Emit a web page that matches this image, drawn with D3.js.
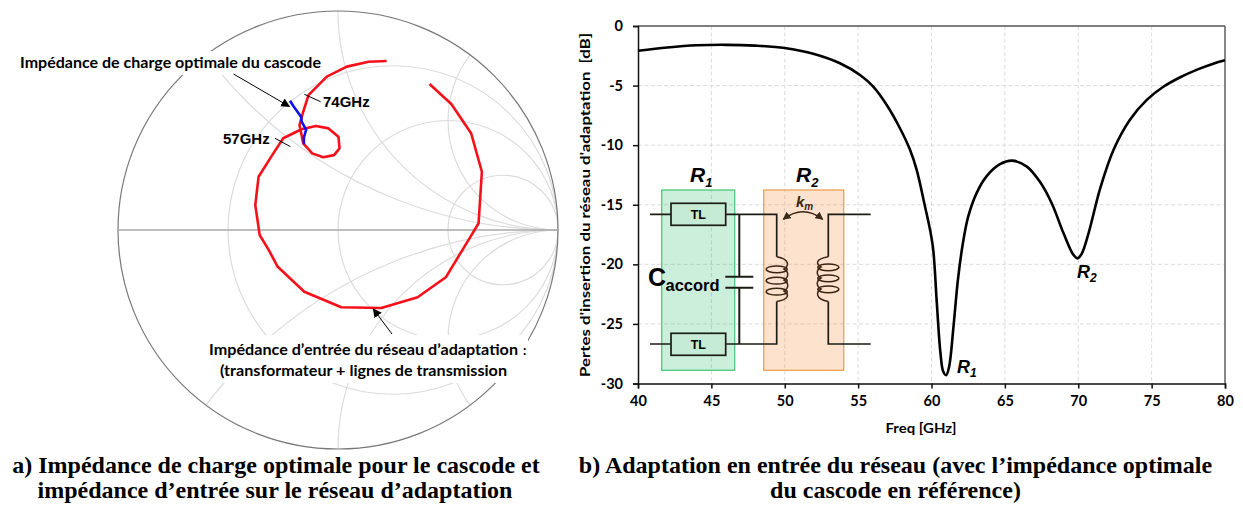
<!DOCTYPE html>
<html><head><meta charset="utf-8">
<script src="https://cdn.jsdelivr.net/npm/d3@7"></script>
<style>html,body{margin:0;padding:0;background:#fff}svg{display:block}</style></head>
<body><svg id="c" width="1243" height="505"></svg>
<script>
// ---- data ----
const freq = [40,42,44,46,48,50,52,53.76,55.13,56.03,56.95,57.85,58.53,58.99,59.56,59.9,60.12,60.35,60.6,60.8,61,61.2,61.5,61.8,62.13,62.5,63.08,63.76,64.67,65.5,66.5,67.4,68.2,69,69.67,69.95,70.24,70.7,71.5,72.4,73.5,74.67,75.8,76.95,78.1,79.2,80];
const lossDb = [-2.07,-1.8,-1.62,-1.58,-1.65,-1.85,-2.35,-3.13,-4.11,-5.09,-6.63,-8.58,-10.37,-12.08,-15.16,-17.1,-18.8,-23,-27.3,-29,-29.3,-28.6,-25.2,-21.3,-18.3,-16,-14,-12.6,-11.6,-11.3,-11.8,-13.1,-14.9,-17.4,-19.2,-19.5,-19.1,-17.4,-13.6,-10.4,-7.9,-6.2,-5.1,-4.3,-3.66,-3.16,-2.88];
const xTicks = [40,45,50,55,60,65,70,75,80];
const yTicks = [0,-5,-10,-15,-20,-25,-30];
const inputRe = [.221,.139,.04,-.051,-.134,-.158,-.175,-.158,-.117,-.067,-.018,.007,.002,-.043,-.1,-.166,-.249,-.299,-.361,-.376,-.356,-.315,-.274,-.153,.015,.197,.362,.49,.593,.639,.654,.605,.515,.416];
const inputIm = [.772,.768,.746,.7,.616,.54,.479,.396,.35,.332,.342,.373,.426,.464,.475,.46,.419,.342,.243,.114,-.023,-.091,-.168,-.282,-.353,-.356,-.307,-.216,-.046,.031,.266,.442,.575,.667];
const loadRe = [-.218,-.203,-.168,-.165,-.145,-.155,-.155];
const loadIm = [.59,.566,.517,.495,.457,.423,.391];
const rCircles = [1/3,1,3];
const xArcs = [.5,1,2,-.5,-1,-2];
const captionA = ["a) Impédance de charge optimale pour le cascode et","impédance d’entrée sur le réseau d’adaptation"];
const captionB = ["b) Adaptation en entrée du réseau (avec l’impédance optimale","du cascode en référence)"];

const svg = d3.select("#c");
const ARIAL="'Liberation Sans',Arial,sans-serif", CAL="Lato,'Open Sans',sans-serif", SERIF="'Liberation Serif','Times New Roman',serif";
function txt(g,x,y,s,o={}){const t=g.append("text").attr("x",x).attr("y",y).text(s)
  .attr("font-family",o.f||ARIAL).attr("font-size",o.s||13).attr("font-weight",o.w||"bold")
  .attr("font-style",o.i?"italic":"normal").attr("fill",o.c||"#000").attr("text-anchor",o.a||"start");
  if(o.tl)t.attr("textLength",o.tl).attr("lengthAdjust","spacingAndGlyphs");return t;}

// markers
const defs=svg.append("defs");
function mk(id,col,w,h){defs.append("marker").attr("id",id).attr("viewBox","0 0 10 10").attr("refX",9).attr("refY",5)
  .attr("markerWidth",w).attr("markerHeight",h).attr("markerUnits","userSpaceOnUse").attr("orient","auto-start-reverse")
  .append("path").attr("d","M0,0L10,5L0,10Z").attr("fill",col);}
mk("ah","#000",9,9); mk("ak","#3a2a1a",8,8);

// ---- Smith chart ----
const gx=d3.scaleLinear().domain([-1,1]).range([118,558]);
const gy=d3.scaleLinear().domain([-1,1]).range([449,11]);
const sm=svg.append("g");
defs.append("clipPath").attr("id","unit").append("ellipse")
  .attr("cx",gx(0)).attr("cy",gy(0)).attr("rx",gx(1)-gx(0)).attr("ry",gy(-1)-gy(0));
const grid=sm.append("g").attr("clip-path","url(#unit)").attr("fill","none").attr("stroke","#dcdcdc").attr("stroke-width",1.2);
grid.selectAll("ellipse.r").data(rCircles).join("ellipse").attr("class","r")
  .attr("cx",r=>gx(r/(r+1))).attr("cy",gy(0))
  .attr("rx",r=>gx(1/(r+1))-gx(0)).attr("ry",r=>gy(0)-gy(1/(r+1)));
grid.selectAll("ellipse.x").data(xArcs).join("ellipse").attr("class","x")
  .attr("cx",gx(1)).attr("cy",x=>gy(1/x))
  .attr("rx",x=>gx(1/Math.abs(x))-gx(0)).attr("ry",x=>gy(0)-gy(1/Math.abs(x)));
sm.append("ellipse").attr("cx",gx(0)).attr("cy",gy(0)).attr("rx",gx(1)-gx(0)).attr("ry",gy(-1)-gy(0))
  .attr("fill","none").attr("stroke","#777").attr("stroke-width",1.2);
sm.append("line").attr("x1",gx(-1)).attr("x2",gx(1)).attr("y1",gy(0)).attr("y2",gy(0)).attr("stroke","#a8a8a8").attr("stroke-width",1.6);
// white text boxes that hide the chart below the labels
sm.append("rect").attr("x",15).attr("y",51).attr("width",308).attr("height",24).attr("fill","#fff");
sm.append("rect").attr("x",206).attr("y",335).attr("width",322).attr("height",48).attr("fill","#fff");

const polar=d3.line().x(d=>gx(d[0])).y(d=>gy(d[1]));
sm.append("path").attr("d",polar(d3.zip(inputRe,inputIm))).attr("fill","none").attr("stroke","#f5101a").attr("stroke-width",2.6).attr("stroke-linejoin","round");
sm.append("path").attr("d",polar(d3.zip(loadRe,loadIm))).attr("fill","none").attr("stroke","#1010ee").attr("stroke-width",2.6).attr("stroke-linejoin","round");

txt(sm,20,68,"Impédance de charge optimale du cascode",{f:CAL,s:15,tl:301});
txt(sm,323,107,"74GHz",{s:15});
txt(sm,223,144,"57GHz",{s:15});
txt(sm,209,355,"Impédance d’entrée du réseau d’adaptation",{f:CAL,s:14.5,tl:309});
txt(sm,523,355,":",{f:CAL,s:13});
txt(sm,220,376,"(transformateur + lignes de transmission",{f:CAL,s:14.5,tl:287});
const lk=sm.append("g").attr("stroke","#000").attr("stroke-width",1);
lk.append("line").attr("x1",304.3).attr("y1",94.3).attr("x2",320.6).attr("y2",101.7);
lk.append("line").attr("x1",275).attr("y1",138.3).attr("x2",290.5).attr("y2",146.7);
lk.append("line").attr("x1",233.5).attr("y1",74).attr("x2",289.4).attr("y2",106.5).attr("marker-end","url(#ah)");
lk.append("line").attr("x1",392).attr("y1",334).attr("x2",373.3).attr("y2",309).attr("marker-end","url(#ah)");

// ---- Insertion-loss chart ----
const x=d3.scaleLinear().domain([40,80]).range([638,1225]);
const y=d3.scaleLinear().domain([-30,0]).range([383.5,26]);
const pl=svg.append("g");
const gg=pl.append("g").attr("stroke","#dcdcdc").attr("stroke-width",1).attr("stroke-dasharray","4 2.5");
gg.selectAll("line.v").data(xTicks.slice(1,-1)).join("line").attr("class","v").attr("x1",x).attr("x2",x).attr("y1",y(0)).attr("y2",y(-30));
gg.selectAll("line.h").data(yTicks.slice(1,-1)).join("line").attr("class","h").attr("y1",y).attr("y2",y).attr("x1",x(40)).attr("x2",x(80));
pl.append("line").attr("x1",x(40)).attr("x2",x(80)).attr("y1",y(0)).attr("y2",y(0)).attr("stroke","#555").attr("stroke-width",1.4);
pl.append("line").attr("x1",x(80)).attr("x2",x(80)).attr("y1",y(0)).attr("y2",y(-30)).attr("stroke","#555").attr("stroke-width",1.4);
const ax=pl.append("g").attr("transform",`translate(0,${y(-30)})`).call(d3.axisBottom(x).tickValues(xTicks).tickSize(5).tickPadding(11).tickFormat(d3.format("d")));
const ay=pl.append("g").attr("transform",`translate(${x(40)},0)`).call(d3.axisLeft(y).tickValues(yTicks).tickSize(5).tickPadding(10).tickFormat(d=>String(d)));
[ax,ay].forEach(a=>{a.selectAll("path,line").attr("stroke","#111").attr("stroke-width",1.5);
  a.selectAll("text").attr("font-family",CAL).attr("font-weight","bold").attr("font-size",14.5).attr("fill","#000");});
ax.selectAll("text").attr("dy","0.45em");

// circuit inset
const cir=pl.append("g");
cir.append("rect").attr("x",661.7).attr("y",190).attr("width",73).attr("height",180.3).attr("fill","#00b050").attr("fill-opacity",.2).attr("stroke","#4cc97e").attr("stroke-width",1.3);
cir.append("rect").attr("x",763.7).attr("y",190).attr("width",80).attr("height",180.3).attr("fill","#f4811f").attr("fill-opacity",.22).attr("stroke","#f0a050").attr("stroke-width",1.3);
const w=cir.append("g").attr("stroke","#1c1c14").attr("stroke-width",1.7).attr("fill","none");
w.append("path").attr("d","M650,214.3H776.7V256.7 M650,344H776.7V301.5 M870.7,214.3H828.3V256.7 M870.7,344H828.3V301.5");
w.append("path").attr("d","M739.3,214.3V276.7 M739.3,287.7V344").attr("stroke-width",2);
w.append("path").attr("d","M725.3,276.7H753.3 M725.3,287.7H753.3").attr("stroke-width",2);
[[671,203.3],[671,333.3]].forEach(p=>{
  cir.append("rect").attr("x",p[0]).attr("y",p[1]).attr("width",54.7).attr("height",22).attr("fill","#c6ebd5").attr("stroke","#1c1c14").attr("stroke-width",1.7);
  txt(cir,698.3,p[1]+16,"TL",{s:12.5,a:"middle"});});
const coil=cir.append("g").attr("fill","none").attr("stroke","#3a2412").attr("stroke-width",1.5);
coil.selectAll("ellipse.l").data([269.3,280.7,291.7]).join("ellipse").attr("class","l").attr("cx",776.7).attr("cy",d=>d).attr("rx",10.5).attr("ry",3.4);
coil.selectAll("ellipse.k").data([267.3,278.3,289.3]).join("ellipse").attr("class","k").attr("cx",828.3).attr("cy",d=>d).attr("rx",10.5).attr("ry",3.4);
coil.append("path").attr("d","M776.7,256.7 C790,259 789,266 784,269 C789,272 789,277 784,280 C789,283 789,288 784,291 C789,294 790,299 776.7,301.5");
coil.append("path").attr("d","M828.3,256.7 C815,259 816,264 821,267 C816,270 816,275 821,278 C816,281 816,286 821,289 C816,292 815,299 828.3,301.5");
cir.append("path").attr("d","M783.3,219.3 Q803,204 822.7,219.3").attr("fill","none").attr("stroke","#3a2412").attr("stroke-width",1.5).attr("marker-start","url(#ak)").attr("marker-end","url(#ak)");
const km=txt(cir,796,207,"k",{s:15,i:1,c:"#3a2412"}); km.append("tspan").attr("dy",3).attr("font-size",10).text("m");
function rl(X,Y,s,sub,size,subS){const t=txt(pl,X,Y,s,{s:size,i:1}); t.append("tspan").attr("dy",size*.22).attr("font-size",subS).text(sub);}
rl(690,182,"R","1",21,13); rl(796,182,"R","2",21,13);
rl(957,373,"R","1",18,12); rl(1077,278,"R","2",18,12);
txt(pl,648,285.5,"C",{s:25});
txt(pl,665.5,291,"accord",{s:16.5});

const line=d3.line().x(d=>x(d[0])).y(d=>y(d[1])).curve(d3.curveCatmullRom.alpha(.5));
pl.append("path").attr("d",line(d3.zip(freq,lossDb))).attr("fill","none").attr("stroke","#000").attr("stroke-width",2.6);

txt(pl,921,433,"Freq [GHz]",{f:CAL,s:14,a:"middle",tl:71});
txt(pl,0,0,"Pertes d'insertion du réseau d'adaptation  [dB]",{f:CAL,s:14,a:"middle",tl:344}).attr("transform","translate(590,205) rotate(-90)").style("white-space","pre");

// captions
const cap=svg.append("g");
txt(cap,276,473,captionA[0],{f:SERIF,s:24,a:"middle"});
txt(cap,275,498,captionA[1],{f:SERIF,s:24,a:"middle"});
txt(cap,895.5,473,captionB[0],{f:SERIF,s:24,a:"middle"});
txt(cap,895.5,498,captionB[1],{f:SERIF,s:24,a:"middle"});
</script></body></html>
